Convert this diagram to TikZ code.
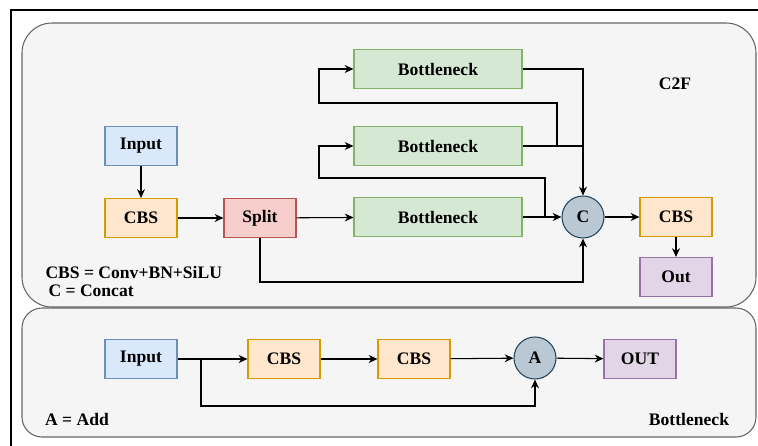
\documentclass[tikz,border=0pt]{standalone}
\usepackage{fontspec}
\setmainfont{Liberation Serif}
\usepackage{tikz}
\usetikzlibrary{arrows.meta}

\definecolor{inblue}{HTML}{DAE8FC}
\definecolor{inblueline}{HTML}{6C8EBF}
\definecolor{cbsorange}{HTML}{FFE6CC}
\definecolor{cbsline}{HTML}{D79B00}
\definecolor{splitred}{HTML}{F8CECC}
\definecolor{splitline}{HTML}{B85450}
\definecolor{bngreen}{HTML}{D5E8D4}
\definecolor{bnline}{HTML}{82B366}
\definecolor{opgray}{HTML}{BAC8D3}
\definecolor{opline}{HTML}{23445D}
\definecolor{outpurple}{HTML}{E1D5E7}
\definecolor{outline}{HTML}{9673A6}
\definecolor{panelfill}{HTML}{F5F5F5}
\definecolor{panelline}{HTML}{666666}

\tikzset{
  block/.style={draw, minimum width=1.44cm, minimum height=0.78cm, inner sep=1pt, font=\bfseries},
  inputbox/.style={block, fill=inblue, draw=inblueline},
  cbsbox/.style={block, fill=cbsorange, draw=cbsline},
  splitbox/.style={block, fill=splitred, draw=splitline},
  bnbox/.style={block, fill=bngreen, draw=bnline, minimum width=3.36cm},
  outbox/.style={block, fill=outpurple, draw=outline},
  opnode/.style={circle, draw=opline, fill=opgray, minimum size=0.84cm, inner sep=0pt, font=\bfseries},
  panel/.style={fill=panelfill, draw=panelline, line width=0.6pt},
  legend/.style={font=\bfseries, inner sep=0pt}
}

\begin{document}
\begin{tikzpicture}[x=0.02cm, y=-0.02cm, line width=0.6pt, >={Stealth[length=5pt,width=4.5pt]}]
    \useasboundingbox (0,0) rectangle (758,446);

    % Frame
    \draw[line width=0.8pt] (11,446) -- (11,10) -- (758,10);

    % Panels
    \draw[panel, rounded corners=0.6cm] (22,23) rectangle (756,307);
    \draw[panel, rounded corners=0.4cm] (22,308) rectangle (756,437);

    % C2F nodes
    \node[inputbox] (inA) at (141,146) {Input};
    \node[cbsbox] (cbsA) at (141,218) {CBS};
    \node[splitbox] (split) at (260,218) {Split};
    \node[bnbox] (bn1) at (438,69) {Bottleneck};
    \node[bnbox] (bn2) at (438,146) {Bottleneck};
    \node[bnbox] (bn3) at (438,217) {Bottleneck};
    \node[opnode] (cat) at (583,217) {C};
    \node[cbsbox] (cbsB) at (676,217) {CBS};
    \node[outbox] (outA) at (676,277) {Out};
    \node[legend] (c2f) at (675,84) {C2F};
    \node[legend, anchor=west] (lgA) at (45,272) {CBS = Conv+BN+SiLU};
    \node[legend, anchor=west] (lgB) at (48,291) {C = Concat};

    % C2F connectors
    \draw[->] (inA) -- (cbsA);
    \draw[->] (cbsA) -- (split);
    \draw[->] (split) -- (bn3);
    \draw[->] (bn3) -- (cat);
    \draw[->] (bn1.east) -| (cat.north);
    \draw (bn2.east) -- (bn2.east -| cat.north);
    \coordinate (j1) at (557,146);
    \draw[->] (j1) |- (319,103) |- (bn1.west);
    \coordinate (j2) at (545,217);
    \draw[->] (j2) |- (319,178) |- (bn2.west);
    \draw[->] (split.south) -- ++(0,44) -| (cat.south);
    \draw[->] (cat) -- (cbsB);
    \draw[->] (cbsB) -- (outA);

    % Bottleneck nodes
    \node[inputbox] (inB) at (141,359) {Input};
    \node[cbsbox] (cbsC) at (284,359) {CBS};
    \node[cbsbox] (cbsD) at (414,359) {CBS};
    \node[opnode] (add) at (535,358) {A};
    \node[outbox] (outB) at (640,359) {OUT};
    \node[legend] (lgC) at (77,419) {A = Add};
    \node[legend] (bnlbl) at (689,419) {Bottleneck};

    % Bottleneck connectors
    \draw[->] (inB) -- (cbsC);
    \draw[->] (cbsC) -- (cbsD);
    \draw[->] (cbsD) -- (add);
    \draw[->] (add) -- (outB);
    \coordinate (j3) at (201,359);
    \draw[->] (j3) -- ++(0,47) -| (add.south);
\end{tikzpicture}
\end{document}
